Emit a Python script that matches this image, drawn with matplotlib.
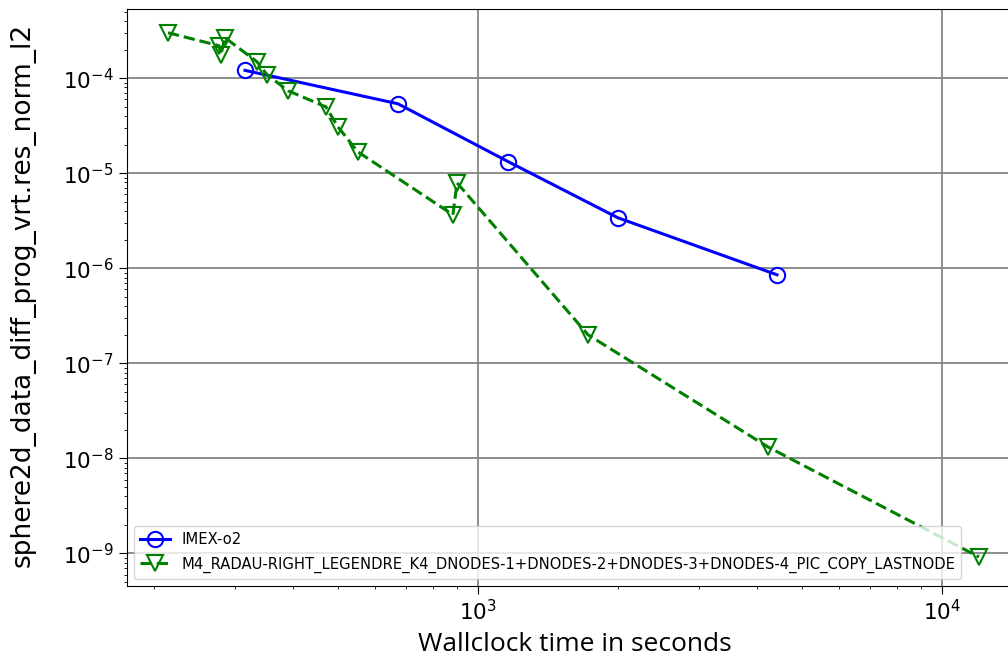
import matplotlib
matplotlib.use("Agg")
import matplotlib.pyplot as plt

imex_time = [314.7, 672, 1160, 2003, 4410]
imex_err = [1.21e-4, 5.39e-5, 1.33e-5, 3.40e-6, 8.55e-7]

radau_time = [214.8, 276.5, 279.3, 284.9, 334, 351, 389.5, 470, 499, 551, 883, 901, 1726, 4217, 12013]
radau_err = [3.01e-4, 2.20e-4, 1.77e-4, 2.67e-4, 1.49e-4, 1.09e-4, 7.39e-5, 5.0e-5, 3.08e-5,
             1.68e-5, 3.66e-6, 7.94e-6, 2.0e-7, 1.32e-8, 9.2e-10]

y_major_ticks = [1e-9, 1e-8, 1e-7, 1e-6, 1e-5, 1e-4]
x_major_ticks = [1e3, 1e4]

label_imex = "IMEX-o2"
label_radau = "M4_RADAU-RIGHT_LEGENDRE_K4_DNODES-1+DNODES-2+DNODES-3+DNODES-4_PIC_COPY_LASTNODE"
xlabel = "Wallclock time in seconds"
ylabel = "sphere2d_data_diff_prog_vrt.res_norm_l2"

W, H = 1008, 662
fig = plt.figure(figsize=(W / 100, H / 100), dpi=100)
left, right, top, bottom = 127, 1016, 9, 586
aw, ah = right - left, bottom - top
ax = fig.add_axes([left / W, 1 - bottom / H, aw / W, ah / H])

ax.plot(imex_time, imex_err, color="blue", linestyle="-", linewidth=2.2, marker="o",
        markersize=11, fillstyle="none", markeredgewidth=1.5, label=label_imex)
ax.plot(radau_time, radau_err, color="green", linestyle="--", linewidth=2.2, marker="v",
        markersize=12, fillstyle="none", markeredgewidth=1.5, label=label_radau)

ax.set_xscale("log")
ax.set_yscale("log")
ax.set_yticks(y_major_ticks)
ax.set_xticks(x_major_ticks)
ax.set_xlim(175.2, 10 ** (3 + (right - 478) / 464))
ax.set_ylim(4.55e-10, 5.35e-4)
ax.grid(True, which="major", color="0.52", linewidth=1.3)
ax.tick_params(axis="both", which="major", labelsize=15.5, length=6)
ax.set_xlabel(xlabel, fontsize=19, family="Open Sans")
ax.set_ylabel(ylabel, fontsize=19, family="DejaVu Sans")
ax.xaxis.set_label_coords((575 - left) / aw, -(632 - bottom) / ah)
ax.yaxis.set_label_coords((36 - left) / aw, (bottom - 295) / ah)
ax.legend(loc="lower left", fontsize=10.6, framealpha=0.8, borderaxespad=0.5,
          labelspacing=0.65)

fig.savefig("out.png", dpi=100)
